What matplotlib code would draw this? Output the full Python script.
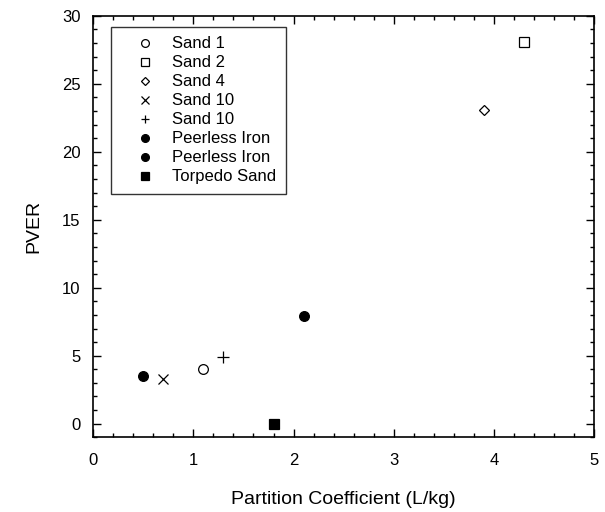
import matplotlib
matplotlib.use("Agg")
import matplotlib.pyplot as plt
from matplotlib.ticker import MultipleLocator

plt.rcParams["font.family"] = ["Liberation Sans", "DejaVu Sans"]

labels = ["Sand 1", "Sand 2", "Sand 4", "Sand 10", "Sand 10",
          "Peerless Iron", "Peerless Iron", "Torpedo Sand"]
partition = [1.1, 4.3, 3.9, 0.7, 1.3, 0.5, 2.1, 1.8]
pver = [4.0, 28.1, 23.1, 3.3, 4.9, 3.5, 7.9, 0.0]
markers = ["o", "s", "D", "x", "+", "o", "o", "s"]
filled = [False, False, False, False, False, True, True, True]
sizes = [7, 7, 5, 7, 8, 7, 7, 7]

fig = plt.figure(figsize=(6.05, 5.12), dpi=100)
ax = fig.add_axes([0.154, 0.146, 0.828, 0.823])

for x, y, lab, m, f, s in zip(partition, pver, labels, markers, filled, sizes):
    ax.plot([x], [y], linestyle="none", marker=m, markersize=s,
            markerfacecolor="black" if f else "white",
            markeredgecolor="black", markeredgewidth=0.9, label=lab)

ax.set_xlim(0, 5)
ax.set_ylim(-1, 30)
ax.xaxis.set_major_locator(MultipleLocator(1))
ax.xaxis.set_minor_locator(MultipleLocator(0.2))
ax.yaxis.set_major_locator(MultipleLocator(5))
ax.yaxis.set_minor_locator(MultipleLocator(1))
ax.tick_params(which="both", direction="in", top=True, right=True,
               labelsize=12, width=1)
ax.tick_params(which="major", length=6)
ax.tick_params(which="minor", length=3)
ax.tick_params(axis="x", which="major", pad=11)
ax.tick_params(axis="y", which="major", pad=9)
for sp in ax.spines.values():
    sp.set_linewidth(1.2)

ax.set_xlabel("Partition Coefficient (L/kg)", fontsize=14, labelpad=17)
ax.set_ylabel("PVER", fontsize=14, labelpad=14)

leg = ax.legend(loc="upper left", bbox_to_anchor=(0.036, 0.973), fontsize=12,
                frameon=True, fancybox=False, edgecolor="black",
                handlelength=3.0, handletextpad=0.12, borderpad=0.55,
                labelspacing=0.24, borderaxespad=0, markerscale=0.8)
leg.get_frame().set_linewidth(1.0)

fig.savefig("out.png", dpi=100, facecolor="white")
